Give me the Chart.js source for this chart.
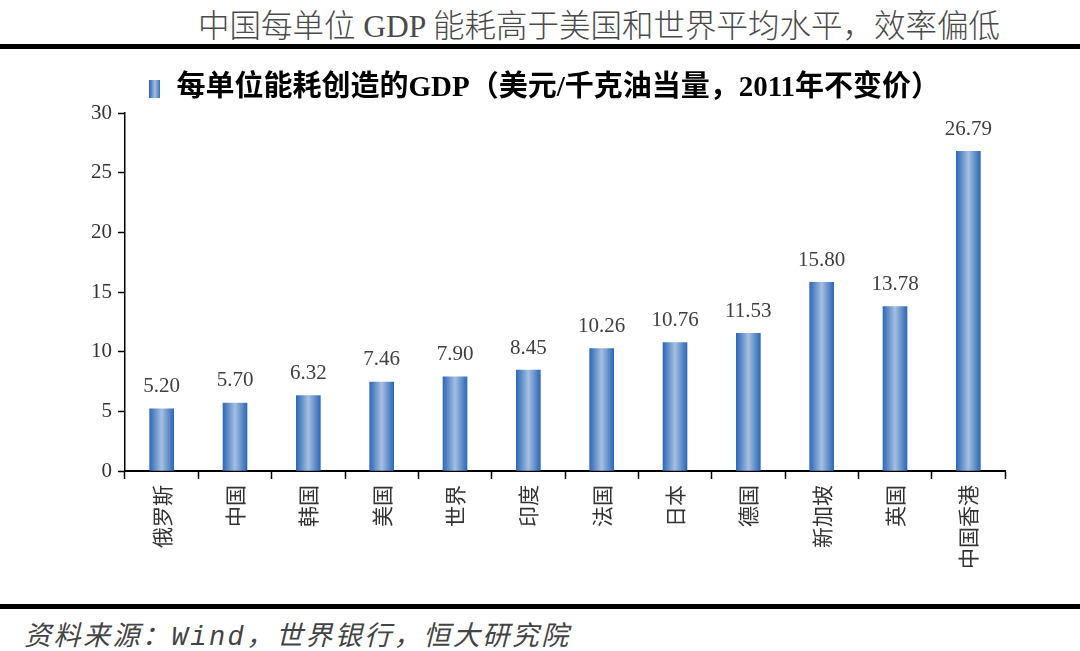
<!DOCTYPE html>
<html>
<head>
<meta charset="utf-8">
<script src="https://cdn.jsdelivr.net/npm/chart.js@4.4.1/dist/chart.umd.min.js"></script>
<style>
  body { margin: 0; width: 1080px; height: 651px; background: #fff; position: relative; overflow: hidden; }
  #head { position: absolute; right: 80px; top: 0px; font: 300 31.5px "Liberation Serif", "Noto Sans CJK SC"; color: #4a4a4a; white-space: nowrap; }
  .rule { position: absolute; left: 0; width: 1080px; height: 5px; background: #000; }
  #foot { position: absolute; left: 24px; top: 614px; font: italic 27px "Liberation Mono", "Noto Sans CJK SC"; color: #444; white-space: nowrap; letter-spacing: 2.5px; }
  #wrap { position: absolute; left: 0; top: 55px; width: 1080px; height: 545px; }
</style>
</head>
<body>
<div id="head">中国每单位 GDP 能耗高于美国和世界平均水平，效率偏低</div>
<div class="rule" style="top:44px"></div>
<div id="wrap"><canvas id="my-chart"></canvas></div>
<div class="rule" style="top:604px"></div>
<div id="foot">资料来源：Wind，世界银行，恒大研究院</div>
<script>
const countries = ["俄罗斯", "中国", "韩国", "美国", "世界", "印度", "法国", "日本", "德国", "新加坡", "英国", "中国香港"];
const gdpPerEnergy = [5.20, 5.70, 6.32, 7.46, 7.90, 8.45, 10.26, 10.76, 11.53, 15.80, 13.78, 26.79];
const yTicks = [0, 5, 10, 15, 20, 25, 30];
const seriesName = "每单位能耗创造的GDP（美元/千克油当量，2011年不变价）";

const edgeBlue = "#2d69b8";
const midBlue = "#a6bfe0";
const barWidth = 24;

function barGradient(ctx, x0, x1) {
  const g = ctx.createLinearGradient(x0, 0, x1, 0);
  g.addColorStop(0, edgeBlue);
  g.addColorStop(0.5, midBlue);
  g.addColorStop(1, edgeBlue);
  return g;
}

// little gradient swatch for the legend
const swatch = document.createElement("canvas");
swatch.width = 11;
swatch.height = 18;
const sctx = swatch.getContext("2d");
sctx.fillStyle = barGradient(sctx, 0, 11);
sctx.fillRect(0, 0, 11, 18);

const valueLabels = {
  id: "valueLabels",
  afterDatasetsDraw(chart) {
    const ctx = chart.ctx;
    const meta = chart.getDatasetMeta(0);
    ctx.save();
    ctx.font = "21px 'Liberation Serif'";
    ctx.fillStyle = "#404040";
    ctx.textAlign = "center";
    ctx.textBaseline = "middle";
    meta.data.forEach((bar, i) => {
      ctx.fillText(gdpPerEnergy[i].toFixed(2), bar.x, bar.y - 22);
    });
    ctx.restore();
  },
};

new Chart(document.querySelector("#my-chart"), {
  type: "bar",
  data: {
    labels: countries,
    datasets: [
      {
        label: seriesName,
        data: gdpPerEnergy,
        barThickness: barWidth,
        backgroundColor: (c) => {
          const chart = c.chart;
          if (!chart.chartArea || c.dataIndex === undefined) return edgeBlue;
          const x = chart.scales.x.getPixelForValue(c.dataIndex);
          return barGradient(chart.ctx, x - barWidth / 2, x + barWidth / 2);
        },
        borderWidth: 0,
      },
    ],
  },
  plugins: [valueLabels],
  options: {
    responsive: true,
    maintainAspectRatio: false,
    animation: false,
    layout: { padding: { top: 9, right: 75, bottom: 0, left: 83 } },
    plugins: {
      tooltip: { enabled: false },
      legend: {
        position: "top",
        align: "center",
        labels: {
          usePointStyle: true,
          pointStyle: swatch,
          pointStyleWidth: 14,
          padding: 10,
          color: "#000",
          font: { family: "'Liberation Serif', 'Noto Sans CJK SC'", size: 29, weight: "bold" },
        },
      },
    },
    scales: {
      x: {
        afterFit(scale) { scale.height = 129; },
        grid: { display: true, drawOnChartArea: false, offset: true, tickLength: 8, color: "#000", tickWidth: 1.5 },
        border: { display: true, color: "#000", width: 2 },
        ticks: {
          minRotation: 90,
          maxRotation: 90,
          padding: 6,
          color: "#333",
          font: { family: "'Noto Sans CJK SC'", size: 21 },
        },
      },
      y: {
        min: 0,
        max: 30,
        afterFit(scale) { scale.width = 42; },
        afterBuildTicks(scale) { scale.ticks = yTicks.map((v) => ({ value: v })); },
        grid: { display: true, drawOnChartArea: false, tickLength: 7, color: "#000", tickWidth: 1.5 },
        border: { display: true, color: "#000", width: 1.5 },
        ticks: {
          padding: 6,
          color: "#333",
          font: { family: "'Liberation Serif'", size: 21 },
        },
      },
    },
  },
});
</script>
</body>
</html>
